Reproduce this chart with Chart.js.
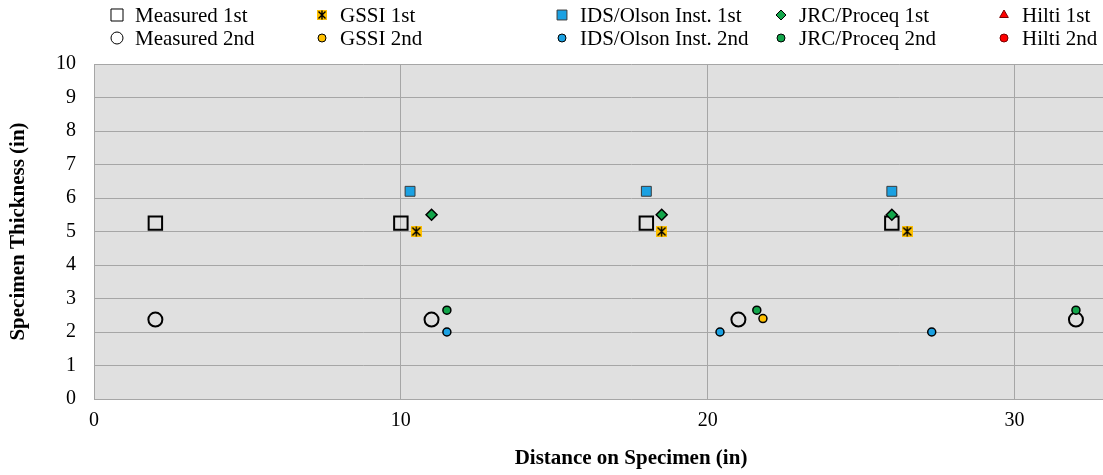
<!DOCTYPE html>
<html>
<head>
<meta charset="utf-8">
<script src="https://cdn.jsdelivr.net/npm/chart.js@4"></script>
<style>
  html, body { margin: 0; padding: 0; background: #ffffff; overflow: hidden; }
  /* the original figure runs past the right edge of the window (x axis goes to 35) */
  #wrap { width: 1170px; height: 475px; }
</style>
</head>
<body>
<div id="wrap"><canvas id="thicknessChart" width="1170" height="475"></canvas></div>
<script>
// positions along the specimen (in) and thickness readings (in)
const measured1X = [2, 10, 18, 26];
const measured1Y = [5.25, 5.25, 5.25, 5.25];
const measured2X = [2, 11, 21, 32];
const measured2Y = [2.37, 2.37, 2.37, 2.37];
const gssi1X = [10.5, 18.5, 26.5];
const gssi1Y = [5.0, 5.0, 5.0];
const gssi2X = [21.8];
const gssi2Y = [2.4];
const ids1X = [10.3, 18.0, 26.0];
const ids1Y = [6.2, 6.2, 6.2];
const ids2X = [11.5, 20.4, 27.3];
const ids2Y = [2.0, 2.0, 2.0];
const jrc1X = [11.0, 18.5, 26.0];
const jrc1Y = [5.5, 5.5, 5.5];
const jrc2X = [11.5, 21.6, 32.0];
const jrc2Y = [2.65, 2.65, 2.65];
const hilti1X = [];
const hilti1Y = [];
const hilti2X = [];
const hilti2Y = [];

const xTicks = [0, 10, 20, 30];
const yTicks = [0, 1, 2, 3, 4, 5, 6, 7, 8, 9, 10];

const FONT = "'Liberation Serif', 'Times New Roman', serif";

function pts(xs, ys) {
    return xs.map((x, i) => ({ x: x, y: ys[i] }));
}

// orange square with a black asterisk, like the excel "star" marker
function makeGssiMarker(size) {
    const c = document.createElement('canvas');
    c.width = size;
    c.height = size;
    const g = c.getContext('2d');
    g.fillStyle = '#ffc000';
    g.fillRect(0, 0, size, size);
    g.strokeStyle = '#000000';
    g.lineWidth = 1.4;
    const m = size / 2;
    g.beginPath();
    g.moveTo(1.5, 1.5); g.lineTo(size - 1.5, size - 1.5);
    g.moveTo(size - 1.5, 1.5); g.lineTo(1.5, size - 1.5);
    g.moveTo(m, 0.5); g.lineTo(m, size - 0.5);
    g.stroke();
    return c;
}
const gssiMarker = makeGssiMarker(11);
const gssiLegendMarker = makeGssiMarker(10);

const datasets = [
    { label: 'Measured 1st', data: pts(measured1X, measured1Y), pointStyle: 'rect', pointRadius: 9.5,
      backgroundColor: 'rgba(0,0,0,0)', borderColor: '#000000', pointBorderWidth: 2, order: 10 },
    { label: 'Measured 2nd', data: pts(measured2X, measured2Y), pointStyle: 'circle', pointRadius: 7,
      backgroundColor: 'rgba(0,0,0,0)', borderColor: '#000000', pointBorderWidth: 2, order: 10 },
    { label: 'GSSI 1st', data: pts(gssi1X, gssi1Y), pointStyle: gssiMarker, pointRadius: 6,
      backgroundColor: '#ffc000', borderColor: '#000000', pointBorderWidth: 1, order: 1 },
    { label: 'GSSI 2nd', data: pts(gssi2X, gssi2Y), pointStyle: 'circle', pointRadius: 4,
      backgroundColor: '#ffc000', borderColor: '#000000', pointBorderWidth: 1.5, order: 1 },
    { label: 'IDS/Olson Inst. 1st', data: pts(ids1X, ids1Y), pointStyle: 'rect', pointRadius: 7,
      backgroundColor: '#1ba1e2', borderColor: '#3a3a3a', pointBorderWidth: 1, order: 1 },
    { label: 'IDS/Olson Inst. 2nd', data: pts(ids2X, ids2Y), pointStyle: 'circle', pointRadius: 4,
      backgroundColor: '#1ba1e2', borderColor: '#000000', pointBorderWidth: 1.5, order: 1 },
    { label: 'JRC/Proceq 1st', data: pts(jrc1X, jrc1Y), pointStyle: 'rectRot', pointRadius: 5.5,
      backgroundColor: '#12a54a', borderColor: '#000000', pointBorderWidth: 1.5, order: 1 },
    { label: 'JRC/Proceq 2nd', data: pts(jrc2X, jrc2Y), pointStyle: 'circle', pointRadius: 4,
      backgroundColor: '#12a54a', borderColor: '#000000', pointBorderWidth: 1.5, order: 1 },
    { label: 'Hilti 1st', data: pts(hilti1X, hilti1Y), pointStyle: 'triangle', pointRadius: 6,
      backgroundColor: '#ff0000', borderColor: '#7a0000', pointBorderWidth: 1, order: 1 },
    { label: 'Hilti 2nd', data: pts(hilti2X, hilti2Y), pointStyle: 'circle', pointRadius: 4,
      backgroundColor: '#ff0000', borderColor: '#7a0000', pointBorderWidth: 1, order: 1 }
];

// legend laid out in 5 columns, 1st readings on top row, 2nd readings below
const legendCols = [117, 322, 562, 781, 1004];
const legendRows = [15, 38];

const plotBackground = {
    id: 'plotBackground',
    beforeDraw(chart) {
        const a = chart.chartArea;
        const ctx = chart.ctx;
        ctx.save();
        ctx.fillStyle = '#e0e0e0';
        ctx.fillRect(a.left, a.top, a.right - a.left, a.bottom - a.top);
        ctx.restore();
    }
};

const gridLegend = {
    id: 'gridLegend',
    afterDraw(chart) {
        const ctx = chart.ctx;
        ctx.save();
        ctx.font = '21px ' + FONT;
        ctx.textBaseline = 'middle';
        chart.data.datasets.forEach((ds, i) => {
            const col = Math.floor(i / 2);
            const row = i % 2;
            const x = legendCols[col];
            const y = legendRows[row];
            let r = ds.pointRadius;
            let style = ds.pointStyle;
            if (ds.label.startsWith('Measured')) r = ds.pointStyle === 'rect' ? 8.5 : 6;
            else if (ds.label === 'GSSI 1st') style = gssiLegendMarker;
            else if (style === 'rect') r = 7;
            else r = Math.min(r, 5);
            ctx.fillStyle = ds.backgroundColor;
            ctx.strokeStyle = ds.borderColor;
            Chart.helpers.drawPoint(ctx, {
                pointStyle: style,
                radius: r,
                rotation: 0,
                borderWidth: ds.pointBorderWidth
            }, x, y);
            ctx.fillStyle = '#000000';
            ctx.fillText(ds.label, x + 18, y + 1);
        });
        ctx.restore();
    }
};

new Chart(document.getElementById('thicknessChart'), {
    type: 'scatter',
    data: { datasets: datasets },
    options: {
        responsive: false,
        animation: false,
        layout: { autoPadding: false, padding: { top: 64, right: 2, left: 0, bottom: 0 } },
        plugins: {
            legend: { display: false },
            tooltip: { enabled: false }
        },
        scales: {
            x: {
                type: 'linear',
                min: 0,
                max: 35,
                afterBuildTicks: s => { s.ticks = xTicks.map(v => ({ value: v })); },
                afterFit: s => { s.height = 76; },
                ticks: { color: '#000000', font: { family: FONT, size: 20 }, padding: 10 },
                grid: { color: '#a6a6a6', lineWidth: 1, drawTicks: false },
                border: { color: '#a6a6a6' },
                title: { display: true, text: 'Distance on Specimen (in)', color: '#000000',
                         font: { family: FONT, size: 21, weight: 'bold' }, padding: { top: 12 } }
            },
            y: {
                type: 'linear',
                min: 0,
                max: 10,
                afterBuildTicks: s => { s.ticks = yTicks.map(v => ({ value: v })); },
                afterFit: s => { s.width = 94; },
                ticks: { color: '#000000', font: { family: FONT, size: 20 }, padding: 18 },
                grid: { color: '#a6a6a6', lineWidth: 1, drawTicks: false },
                border: { color: '#a6a6a6' },
                title: { display: true, text: 'Specimen Thickness (in)', color: '#000000',
                         font: { family: FONT, size: 21, weight: 'bold' }, padding: { top: 6, bottom: 4 } }
            }
        }
    },
    plugins: [plotBackground, gridLegend]
});
</script>
</body>
</html>
